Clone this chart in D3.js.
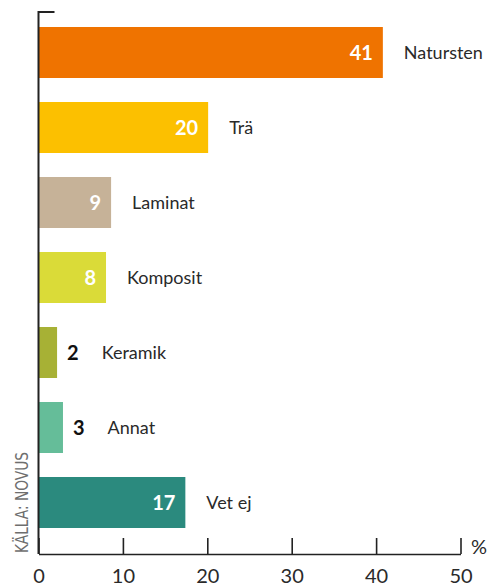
<!DOCTYPE html>
<html>
<head>
<meta charset="utf-8">
<script src="https://cdn.jsdelivr.net/npm/d3@7"></script>
<style>
  body { margin: 0; background: #fff; }
  svg { display: block; font-family: Lato, "Open Sans", sans-serif; }
  .cat { font-size: 18px; fill: #2a2a2a; }
  .val { font-size: 20px; font-weight: 700; }
  .tick text { font-size: 20px; fill: #2a2a2a; font-family: Lato, sans-serif; }
</style>
</head>
<body>
<svg width="489" height="585"></svg>
<script>
const categories = ['Natursten', 'Trä', 'Laminat', 'Komposit', 'Keramik', 'Annat', 'Vet ej'];
const values = [40.8, 20.1, 8.6, 8.0, 2.2, 2.9, 17.4];
const colors = ['#ef7300', '#fcc000', '#c6b298', '#dadb38', '#a7b135', '#65bd99', '#2b8a7e'];
const xTicks = [0, 10, 20, 30, 40, 50];
const source = 'KÄLLA: NOVUS';

const svg = d3.select('svg');

const data = categories.map((c, i) => ({ cat: c, value: values[i], color: colors[i] }));

const xScale = d3.scaleLinear()
  .domain([0, 50])
  .range([38.5, 460.5]);

const yScale = d3.scaleBand()
  .domain(categories)
  .range([27, 528])
  .paddingInner(0.32)
  .paddingOuter(0);

const axisY = 554;

// bars
svg.selectAll('rect.bar').data(data)
  .enter().append('rect')
    .attr('class', 'bar')
    .attr('x', xScale(0))
    .attr('y', d => yScale(d.cat))
    .attr('width', d => xScale(d.value) - xScale(0))
    .attr('height', yScale.bandwidth())
    .attr('fill', d => d.color);

// value + category labels
const fmt = d3.format('.0f');
const labels = svg.selectAll('g.lab').data(data)
  .enter().append('g')
    .attr('class', 'lab')
    .attr('transform', d => `translate(0,${yScale(d.cat) + yScale.bandwidth() / 2})`);

labels.each(function(d) {
  const g = d3.select(this);
  const end = xScale(d.value);
  const inside = d.value > 5;
  const v = g.append('text')
    .attr('class', 'val')
    .attr('dy', '0.36em')
    .text(fmt(d.value));
  let catX;
  if (inside) {
    v.attr('x', end - 10).attr('text-anchor', 'end').attr('fill', '#fff');
    catX = end + 21;
  } else {
    v.attr('x', end + 10).attr('fill', '#111');
    catX = end + 10 + v.node().getComputedTextLength() + 23;
  }
  g.append('text')
    .attr('class', 'cat')
    .attr('x', catX)
    .attr('dy', '0.36em')
    .text(d.cat);
});

// x axis
const xAxis = d3.axisBottom(xScale)
  .tickValues(xTicks)
  .tickSizeInner(-16)
  .tickSizeOuter(0)
  .tickPadding(15);

const xAxisG = svg.append('g')
  .attr('transform', `translate(0,${axisY})`)
  .call(xAxis);
xAxisG.select('.domain').attr('stroke', '#222').attr('stroke-width', 1.6);
xAxisG.selectAll('.tick line').attr('stroke', '#222').attr('stroke-width', 1.6);

// y axis line with top cap
svg.append('path')
  .attr('d', `M${xScale(0) + 16},12H${xScale(0)}V${axisY}`)
  .attr('fill', 'none')
  .attr('stroke', '#222')
  .attr('stroke-width', 2);

// percent sign
svg.append('text')
  .attr('x', 471)
  .attr('y', 547)
  .attr('dy', '0.36em')
  .attr('font-size', 20)
  .attr('fill', '#2a2a2a')
  .text('%');

// source
svg.append('text')
  .attr('transform', 'translate(28,553) rotate(-90)')
  .attr('font-family', '"Liberation Sans Narrow", "DejaVu Sans Condensed", sans-serif')
  .attr('font-size', 17)
  .attr('fill', '#6e6e6e')
  .attr('textLength', 101)
  .attr('lengthAdjust', 'spacingAndGlyphs')
  .text(source);
</script>
</body>
</html>
